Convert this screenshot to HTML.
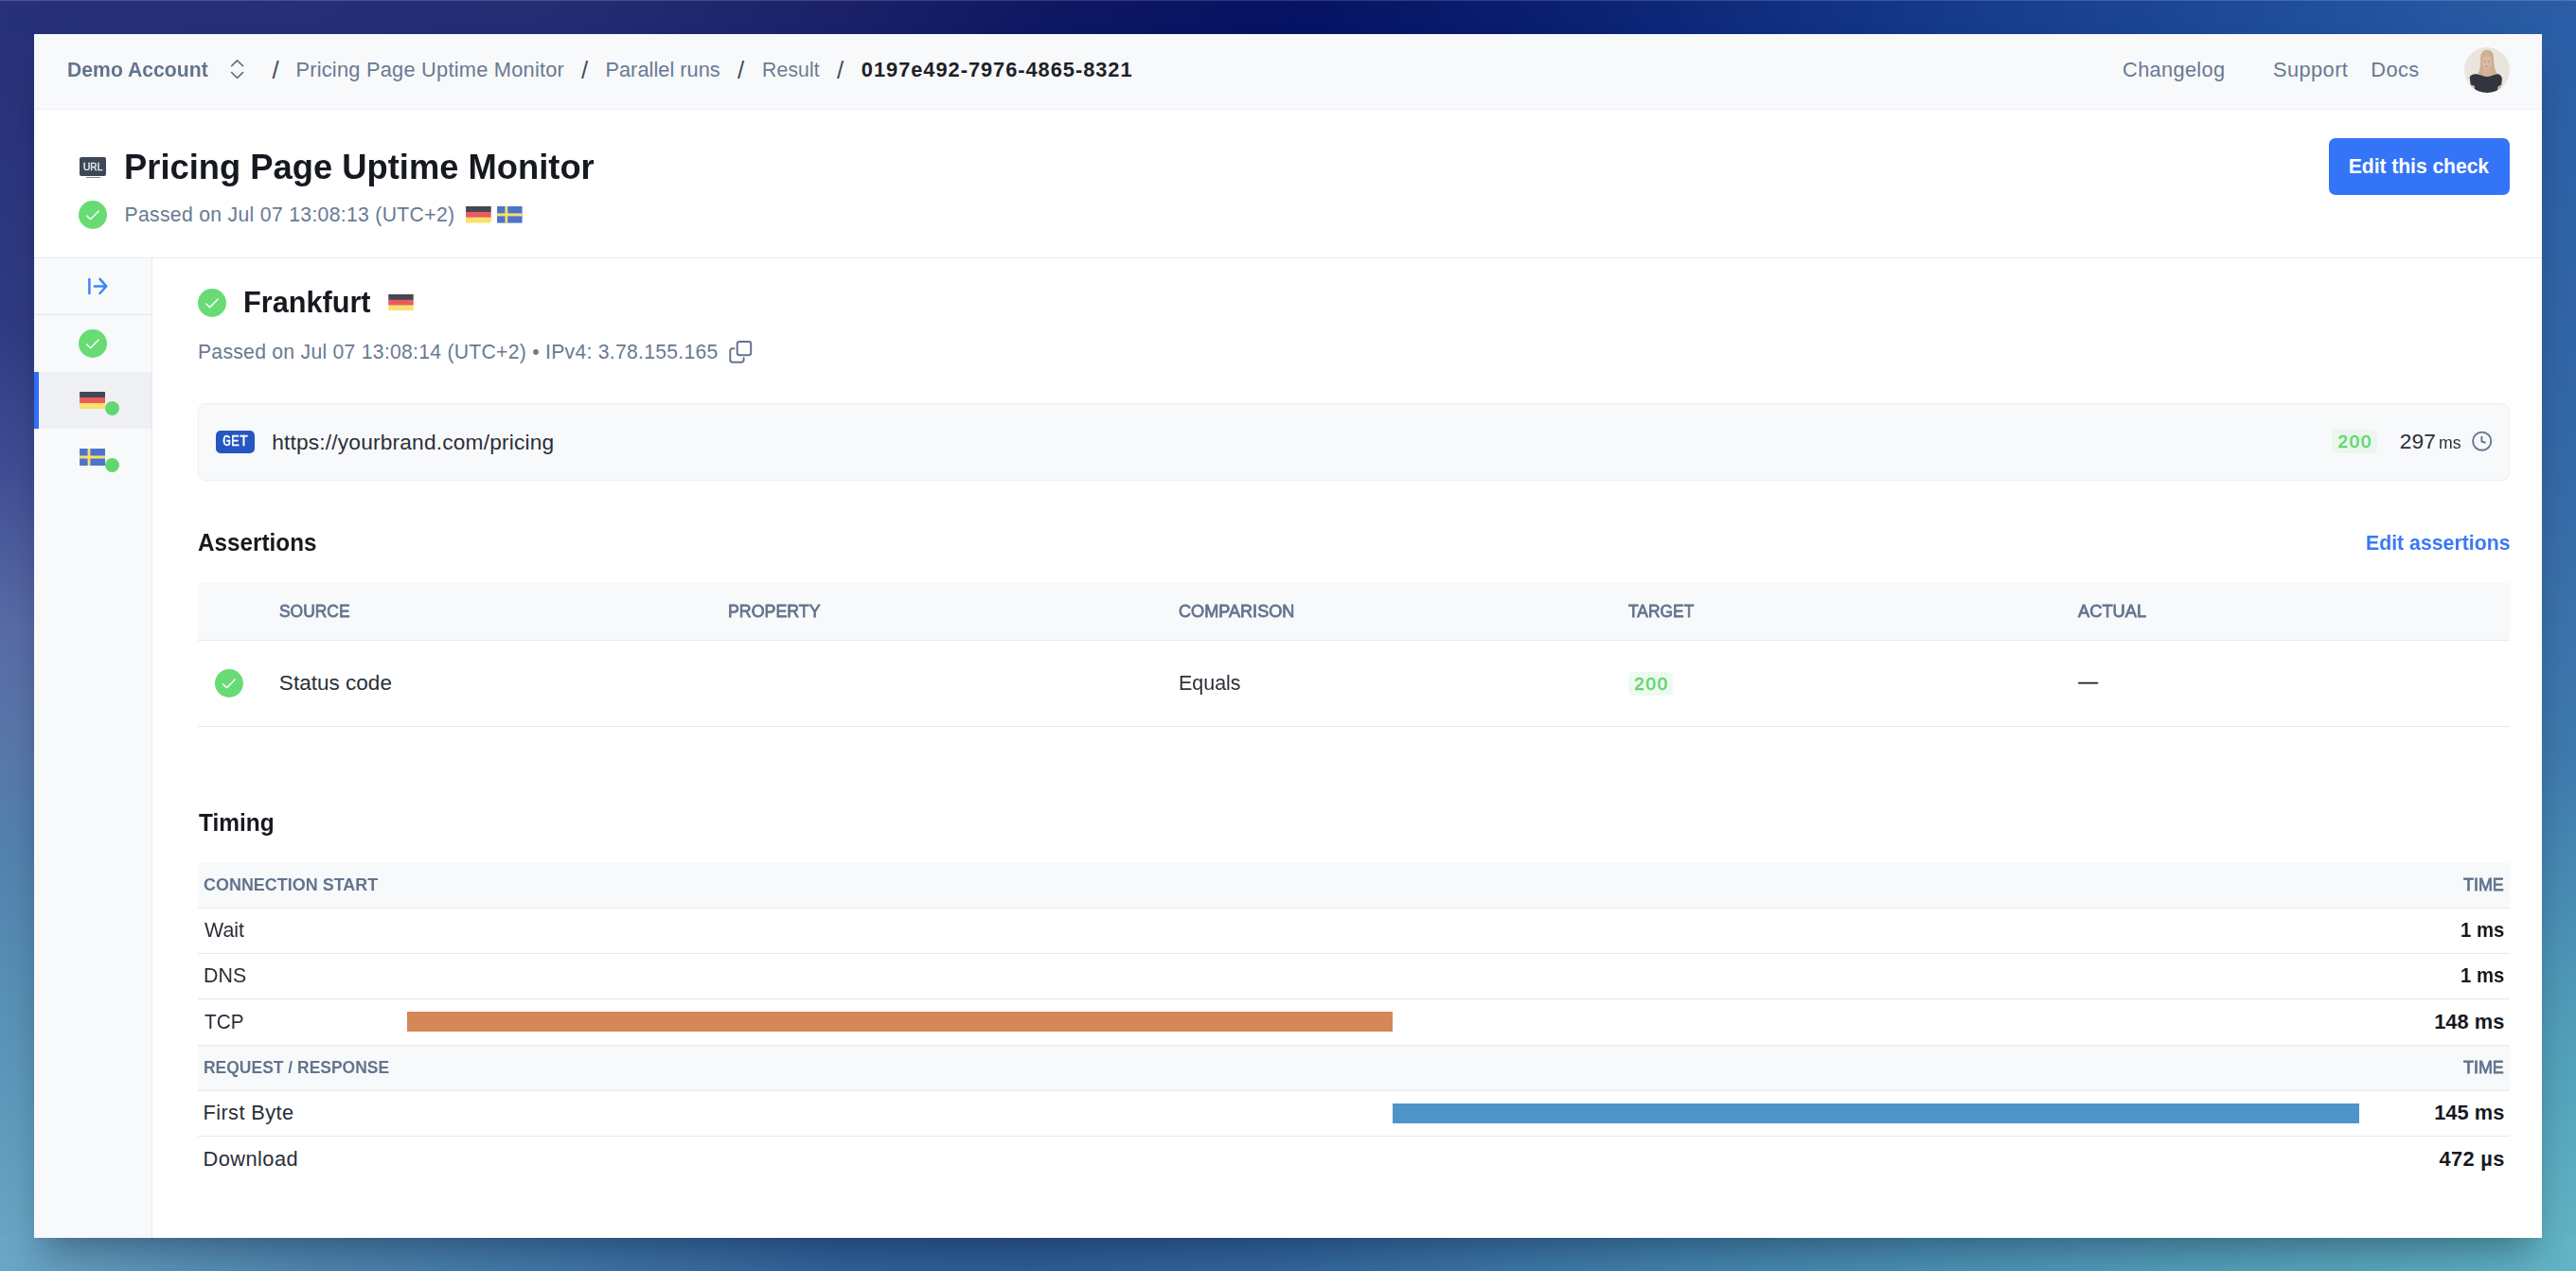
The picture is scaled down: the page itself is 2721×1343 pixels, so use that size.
<!DOCTYPE html>
<html lang="en">
<head>
<meta charset="utf-8">
<title>Pricing Page Uptime Monitor</title>
<style>
html,body{margin:0;padding:0;}
body{width:2721px;height:1343px;overflow:hidden;position:relative;font-family:"Liberation Sans",sans-serif;
background:#2c4f8c;
}
.st{position:absolute;}
.st-t{left:0;top:0;width:2721px;height:37px;background:linear-gradient(to right,#27317a 0%,#242c74 22%,#1a2169 33%,#0e1762 41%,#061263 50%,#0a1f70 60%,#15398a 75%,#204f9b 90%,#2b5ea7 100%);}
.st-b{left:0;top:1307px;width:2721px;height:37px;background:linear-gradient(to right,#6aa6c6 0%,#5a94b8 6%,#4f86b0 12%,#3f76a8 22%,#30609a 33%,#2e5d98 40%,#32669e 50%,#4282ad 65%,#4f98b8 80%,#5aaabe 95%,#62b5c5 100%);}
.st-l{left:0;top:36px;width:37px;height:1272px;background:linear-gradient(to bottom,#28317a 0%,#2c3780 14%,#303b84 24%,#414e95 36.5%,#586ba6 49%,#5878ab 60%,#5282af 68%,#5a95b8 84%,#68a5c4 100%);}
.st-r{left:2684px;top:36px;width:37px;height:1271px;background:linear-gradient(to bottom,#2b5ea7 0%,#3468a8 33%,#3f7aae 60%,#52a0ba 84%,#60b3c4 100%);}
.abs,.t{position:absolute;}
.t{white-space:nowrap;}
.win{position:absolute;left:36px;top:36px;width:2649px;height:1272px;background:#fff;box-shadow:0 22px 36px -10px rgba(0,0,20,0.34);}
.nav{position:absolute;left:36px;top:36px;width:2649px;height:79px;background:#f8f9fb;border-bottom:1px solid #ebeef2;}
.hline{position:absolute;height:1px;background:#e4e8ee;}
.side{position:absolute;left:36px;top:273px;width:124px;height:1035px;background:#f8f9fb;border-right:1px solid #e6e9ee;}
.sel{position:absolute;left:36px;top:393px;width:124px;height:60px;background:#eef0f4;}
.selbar{position:absolute;left:36px;top:393px;width:5px;height:60px;background:#2f6ef6;}
.ok{position:absolute;width:30px;height:30px;}
.dot{position:absolute;width:15px;height:15px;border-radius:50%;background:#62d670;}
.btn{position:absolute;left:2460px;top:146px;width:191px;height:60px;border-radius:7px;background:#3474f6;}
.urlbox{position:absolute;left:209px;top:426px;width:2440px;height:80px;border:1px solid #eceff3;border-radius:8px;background:#f8f9fb;}
.get{position:absolute;left:228px;top:455px;width:41px;height:24px;border-radius:5px;background:#2557c1;}
.badge{position:absolute;border-radius:5px;background:#ebf7ed;}
.thead{position:absolute;background:#f8f9fb;}
.bar{position:absolute;height:21px;}
</style>
</head>
<body>
<div class="st st-t"></div><div class="st st-b"></div><div class="st st-l"></div><div class="st st-r"></div>
<div class="st" style="left:0;top:0;width:2721px;height:1px;background:rgba(255,255,255,0.16)"></div>
<div class="win"></div>
<div class="nav"></div>
<!-- header bottom border -->
<div class="hline" style="left:36px;top:272px;width:2649px;"></div>
<div class="side"></div>
<div class="hline" style="left:36px;top:332px;width:124px;"></div>
<div class="sel"></div><div class="selbar"></div>

<!-- chevrons -->
<svg class="abs" style="left:240px;top:60px" width="22" height="28" viewBox="0 0 22 28"><path d="M4.7 9.6 L10.6 3.9 L16.5 9.6 M4.7 16.7 L10.6 22.3 L16.5 16.7" fill="none" stroke="#64748b" stroke-width="1.7" stroke-linecap="round" stroke-linejoin="round"/></svg>

<!-- avatar -->
<svg class="abs" style="left:2603px;top:50px" width="48" height="48" viewBox="0 0 48 48">
<defs><clipPath id="av"><circle cx="24" cy="24" r="24"/></clipPath><filter id="avb" x="-10%" y="-10%" width="120%" height="120%"><feGaussianBlur stdDeviation="0.55"/></filter></defs>
<g clip-path="url(#av)"><g filter="url(#avb)">
<rect x="-2" y="-2" width="52" height="52" fill="#e9e4de"/>
<path d="M17.2 11.5 C17 5.5 20.5 2.8 24.2 2.8 C28.2 2.8 31 5.6 31 11.5 C31.2 16 31.6 20 32.6 23.5 C33.6 27 35.4 29.6 36.6 31.5 L12.4 32 C14.4 28.6 16 25 16.6 21 C17 17.6 17.2 14.6 17.2 11.5 Z" fill="#c9b28c"/>
<ellipse cx="23.6" cy="15.4" rx="5.1" ry="7.6" fill="#dcbba6"/>
<path d="M19.6 11 C20.6 7.6 26.8 7.4 27.8 11 C26.4 9.4 21 9.4 19.6 11 Z" fill="#cdb48e"/>
<path d="M20 23 L27.4 23 L28.6 31 L18.6 31 Z" fill="#d4b19b"/>
<ellipse cx="21.4" cy="14.9" rx="0.9" ry="0.5" fill="#7a6a66"/><ellipse cx="25.9" cy="14.9" rx="0.9" ry="0.5" fill="#7a6a66"/>
<ellipse cx="23.6" cy="20.2" rx="1.6" ry="0.6" fill="#c08a86"/>
<path d="M5.6 31.4 C7.5 28.2 11.6 27.6 14 28.6 L19.4 30 C22.4 31.4 26 31.4 28.8 30 L33.6 28.4 C36.8 27.6 39.2 29.8 39.9 33 L39.2 39.6 L35.6 41.8 L35.2 49 L11 49 L10.6 41 L6.8 39.8 Z" fill="#30343c"/>
<path d="M6.4 39.2 L10.5 40.8 L10.9 46.4 L7.4 44 Z" fill="#d9b49c"/>
<path d="M39.4 39.4 L35.7 41.7 L35.5 46.8 L38.8 44.2 Z" fill="#d9b49c"/>
</g></g></svg>

<!-- URL monitor icon -->
<div class="abs" style="left:84px;top:165.5px;width:28px;height:20.5px;border-radius:2px;background:#3d4755;"></div>
<div class="abs" style="left:91px;top:187px;width:14.5px;height:1.2px;background:#7c8796;"></div>

<!-- check icons -->
<svg width="0" height="0" style="position:absolute"><defs>
<symbol id="ok" viewBox="0 0 30 30"><circle cx="15" cy="15" r="15" fill="#68db75"/><path d="M8.7 15.9 L12.6 19.8 L21.2 11.1" fill="none" stroke="#fff" stroke-width="1.45" stroke-linecap="round" stroke-linejoin="round"/></symbol>
<symbol id="de" viewBox="0 0 27 18"><rect width="27" height="6.1" fill="#464655"/><rect y="6" width="27" height="6" fill="#ec5a5c"/><rect y="11.9" width="27" height="6.1" fill="#f8e26e"/></symbol>
<symbol id="se" viewBox="0 0 27 18"><rect width="27" height="18" fill="#4c74cd"/><rect x="8.5" width="2.8" height="18" fill="#fbe065"/><rect y="7.5" width="27" height="3" fill="#fbe065"/></symbol>
</defs></svg>
<svg class="ok" style="left:83.2px;top:212px"><use href="#ok"/></svg>
<svg class="ok" style="left:83px;top:348px"><use href="#ok"/></svg>
<svg class="ok" style="left:209.2px;top:304.6px"><use href="#ok"/></svg>
<svg class="ok" style="left:227px;top:707px"><use href="#ok"/></svg>

<!-- flags -->
<svg class="abs" style="left:492.2px;top:218px" width="26.9" height="17.8"><use href="#de"/></svg>
<svg class="abs" style="left:525.2px;top:218px" width="26.8" height="17.8"><use href="#se"/></svg>
<svg class="abs" style="left:410px;top:310.6px" width="27" height="17.6"><use href="#de"/></svg>
<svg class="abs" style="left:84px;top:413.8px" width="27.2" height="18"><use href="#de"/></svg>
<svg class="abs" style="left:84px;top:473.8px" width="27.2" height="18"><use href="#se"/></svg>
<div class="dot" style="left:111.2px;top:423.8px"></div>
<div class="dot" style="left:111.2px;top:483.8px"></div>

<!-- sidebar arrow -->
<svg class="abs" style="left:88px;top:290px" width="30" height="26" viewBox="0 0 30 26"><path d="M6.4 4.9 V20 M11.9 12.45 H24.1 M17.5 4.9 L24.3 12.45 L17.5 20" fill="none" stroke="#4285f4" stroke-width="2.5" stroke-linecap="round" stroke-linejoin="round"/></svg>

<!-- button -->
<div class="btn"></div>

<!-- copy icon -->
<svg class="abs" style="left:766px;top:356px" width="32" height="32" viewBox="0 0 32 32"><rect x="12.7" y="4.9" width="14.5" height="14.3" rx="2.4" fill="none" stroke="#64748b" stroke-width="2"/><path d="M9.4 12.25 H7.7 a2.4 2.4 0 0 0 -2.4 2.4 V24.3 a2.4 2.4 0 0 0 2.4 2.4 H17.2 a2.4 2.4 0 0 0 2.4 -2.4 V22.3" fill="none" stroke="#64748b" stroke-width="2" stroke-linecap="round"/></svg>

<!-- url box -->
<div class="urlbox"></div>
<div class="get"></div>
<div class="badge" style="left:2463.3px;top:454px;width:47.6px;height:24.5px;"></div>
<svg class="abs" style="left:2609px;top:453px" width="26" height="26" viewBox="0 0 26 26"><circle cx="12.7" cy="13.2" r="9.6" fill="none" stroke="#64768f" stroke-width="1.9"/><path d="M12.4 8.6 V13.5 L15.9 14.7" fill="none" stroke="#64768f" stroke-width="1.9" stroke-linecap="round" stroke-linejoin="round"/></svg>

<!-- assertions table -->
<div class="thead" style="left:209px;top:616px;width:2442px;height:60px;"></div>
<div class="hline" style="left:209px;top:676px;width:2442px;"></div>
<div class="hline" style="left:209px;top:767px;width:2442px;"></div>
<div class="badge" style="left:1719.5px;top:710px;width:47.3px;height:24.5px;background:#eefaf0;"></div>

<!-- timing table -->
<div class="thead" style="left:209px;top:912px;width:2442px;height:47.5px;"></div>
<div class="hline" style="left:209px;top:959.3px;width:2442px;"></div>
<div class="hline" style="left:209px;top:1007px;width:2442px;"></div>
<div class="hline" style="left:209px;top:1055.2px;width:2442px;"></div>
<div class="hline" style="left:209px;top:1104px;width:2442px;"></div>
<div class="thead" style="left:209px;top:1105px;width:2442px;height:47.5px;"></div>
<div class="hline" style="left:209px;top:1152.4px;width:2442px;"></div>
<div class="hline" style="left:209px;top:1200px;width:2442px;"></div>
<div class="bar" style="left:430px;top:1069px;width:1041px;background:#d58757;"></div>
<div class="bar" style="left:1471px;top:1166px;width:1021px;background:#4d94c8;"></div>

<span class="t" id="n1" style="left:71.06px;top:62.54px;font-size:21.8px;line-height:21.8px;color:#62748d;font-weight:700;transform:scaleX(0.9721);transform-origin:0 0;">Demo Account</span>
<span class="t" id="s1" style="left:287.50px;top:62.34px;font-size:25.7px;line-height:25.7px;color:#484d57;">/</span>
<span class="t" id="n2" style="left:312.41px;top:62.54px;font-size:21.8px;line-height:21.8px;color:#697a92;letter-spacing:0.232px;">Pricing Page Uptime Monitor</span>
<span class="t" id="s2" style="left:614.00px;top:62.34px;font-size:25.7px;line-height:25.7px;color:#484d57;">/</span>
<span class="t" id="n3" style="left:639.41px;top:62.54px;font-size:21.8px;line-height:21.8px;color:#697a92;letter-spacing:0.018px;">Parallel runs</span>
<span class="t" id="s3" style="left:779.00px;top:62.34px;font-size:25.7px;line-height:25.7px;color:#484d57;">/</span>
<span class="t" id="n4" style="left:804.90px;top:62.54px;font-size:21.8px;line-height:21.8px;color:#697a92;transform:scaleX(0.9825);transform-origin:0 0;">Result</span>
<span class="t" id="s4" style="left:884.00px;top:62.34px;font-size:25.7px;line-height:25.7px;color:#484d57;">/</span>
<span class="t" id="n5" style="left:909.84px;top:62.54px;font-size:21.8px;line-height:21.8px;color:#1d2127;font-weight:700;letter-spacing:0.979px;">0197e492-7976-4865-8321</span>
<span class="t" id="n6" style="left:2242.09px;top:62.54px;font-size:21.8px;line-height:21.8px;color:#697a92;letter-spacing:0.320px;">Changelog</span>
<span class="t" id="n7" style="left:2401.10px;top:62.54px;font-size:21.8px;line-height:21.8px;color:#697a92;letter-spacing:0.401px;">Support</span>
<span class="t" id="n8" style="left:2504.31px;top:62.54px;font-size:21.8px;line-height:21.8px;color:#697a92;letter-spacing:0.401px;">Docs</span>
<span class="t" id="h1" style="left:130.77px;top:157.92px;font-size:37px;line-height:37px;color:#16191f;font-weight:700;transform:scaleX(0.9823);transform-origin:0 0;">Pricing Page Uptime Monitor</span>
<span class="t" id="h2" style="left:131.46px;top:215.80px;font-size:21.2px;line-height:21.2px;color:#697a92;letter-spacing:0.312px;">Passed on Jul 07 13:08:13 (UTC+2)</span>
<span class="t" id="b1" style="left:2480.78px;top:165.05px;font-size:21.2px;line-height:21.2px;color:#ffffff;font-weight:700;letter-spacing:-0.082px;">Edit this check</span>
<span class="t" id="f1" style="left:257.05px;top:302.80px;font-size:32px;line-height:32px;color:#16191f;font-weight:700;transform:scaleX(0.9582);transform-origin:0 0;">Frankfurt</span>
<span class="t" id="f2" style="left:208.96px;top:360.85px;font-size:21.2px;line-height:21.2px;color:#697a92;letter-spacing:0.259px;">Passed on Jul 07 13:08:14 (UTC+2) • IPv4: 3.78.155.165</span>
<span class="t" id="g1" style="left:234.93px;top:459.82px;font-size:15.9px;line-height:15.9px;color:#ffffff;font-family:'Liberation Mono',monospace;transform:scaleX(0.9398);transform-origin:0 0;-webkit-text-stroke:0.3px #fff;">GET</span>
<span class="t" id="ic" style="left:87.73px;top:171.42px;font-size:11.2px;line-height:11.2px;color:#e4e7ea;-webkit-text-stroke:0.47px #e4e7ea;transform:scaleX(0.9064);transform-origin:0 0;">URL</span>
<span class="t" id="u1" style="left:287.13px;top:455.53px;font-size:22.7px;line-height:22.7px;color:#2a2f38;letter-spacing:0.197px;">https://yourbrand.com/pricing</span>
<span class="t" id="c1" style="left:2469.46px;top:457.95px;font-size:18.6px;line-height:18.6px;color:#5cd66b;letter-spacing:1.965px;-webkit-text-stroke:0.6px #5cd66b;">200</span>
<span class="t" id="c2" style="left:2534.86px;top:454.78px;font-size:22.7px;line-height:22.7px;color:#2a2f38;letter-spacing:0.062px;">297</span>
<span class="t" id="c3" style="left:2575.53px;top:459.00px;font-size:18.9px;line-height:18.9px;color:#2a2f38;transform:scaleX(0.9334);transform-origin:0 0;">ms</span>
<span class="t" id="a1" style="left:209.23px;top:561.44px;font-size:25.7px;line-height:25.7px;color:#16191f;font-weight:700;transform:scaleX(0.9457);transform-origin:0 0;">Assertions</span>
<span class="t" id="a2" style="left:2498.78px;top:562.54px;font-size:21.8px;line-height:21.8px;color:#3b78f5;font-weight:700;transform:scaleX(0.9759);transform-origin:0 0;">Edit assertions</span>
<span class="t" id="th1" style="left:295.07px;top:636.75px;font-size:18.9px;line-height:18.9px;color:#62748d;-webkit-text-stroke:0.79px #62748d;transform:scaleX(0.9224);transform-origin:0 0;">SOURCE</span>
<span class="t" id="th2" style="left:768.91px;top:636.75px;font-size:18.9px;line-height:18.9px;color:#62748d;-webkit-text-stroke:0.79px #62748d;transform:scaleX(0.9423);transform-origin:0 0;">PROPERTY</span>
<span class="t" id="th3" style="left:1244.96px;top:636.75px;font-size:18.9px;line-height:18.9px;color:#62748d;-webkit-text-stroke:0.79px #62748d;transform:scaleX(0.9584);transform-origin:0 0;">COMPARISON</span>
<span class="t" id="th4" style="left:1720.41px;top:636.75px;font-size:18.9px;line-height:18.9px;color:#62748d;-webkit-text-stroke:0.79px #62748d;transform:scaleX(0.9214);transform-origin:0 0;">TARGET</span>
<span class="t" id="th5" style="left:2194.97px;top:636.75px;font-size:18.9px;line-height:18.9px;color:#62748d;-webkit-text-stroke:0.79px #62748d;transform:scaleX(0.9684);transform-origin:0 0;">ACTUAL</span>
<span class="t" id="td1" style="left:294.85px;top:710.70px;font-size:22.5px;line-height:22.5px;color:#2a2f38;letter-spacing:0.024px;">Status code</span>
<span class="t" id="td2" style="left:1244.89px;top:710.70px;font-size:22.5px;line-height:22.5px;color:#2a2f38;transform:scaleX(0.9533);transform-origin:0 0;">Equals</span>
<span class="t" id="td3" style="left:1726.36px;top:714.00px;font-size:18.6px;line-height:18.6px;color:#5cd66b;letter-spacing:1.840px;-webkit-text-stroke:0.6px #5cd66b;">200</span>
<span class="t" id="td4" style="left:2195.20px;top:710.37px;font-size:20.7px;line-height:20.7px;color:#2a2f38;-webkit-text-stroke:0.35px #2a2f38;">—</span>
<span class="t" id="m1" style="left:209.93px;top:857.04px;font-size:25.7px;line-height:25.7px;color:#16191f;font-weight:700;transform:scaleX(0.9520);transform-origin:0 0;">Timing</span>
<span class="t" id="r0" style="left:214.99px;top:925.75px;font-size:18.9px;line-height:18.9px;color:#62748d;font-weight:700;transform:scaleX(0.9504);transform-origin:0 0;">CONNECTION START</span>
<span class="t" id="r0t" style="left:2601.97px;top:925.75px;font-size:18.9px;line-height:18.9px;color:#62748d;-webkit-text-stroke:0.79px #62748d;transform:scaleX(0.9489);transform-origin:0 0;">TIME</span>
<span class="t" id="r1" style="left:216.16px;top:971.54px;font-size:21.8px;line-height:21.8px;color:#2a2f38;transform:scaleX(0.9814);transform-origin:0 0;">Wait</span>
<span class="t" id="r1t" style="left:2598.92px;top:971.54px;font-size:21.8px;line-height:21.8px;color:#16191f;font-weight:700;transform:scaleX(0.9321);transform-origin:0 0;">1 ms</span>
<span class="t" id="r2" style="left:215.00px;top:1019.84px;font-size:21.8px;line-height:21.8px;color:#2a2f38;transform:scaleX(0.9828);transform-origin:0 0;">DNS</span>
<span class="t" id="r2t" style="left:2598.92px;top:1019.84px;font-size:21.8px;line-height:21.8px;color:#16191f;font-weight:700;transform:scaleX(0.9321);transform-origin:0 0;">1 ms</span>
<span class="t" id="r3" style="left:215.78px;top:1068.84px;font-size:21.8px;line-height:21.8px;color:#2a2f38;transform:scaleX(0.9531);transform-origin:0 0;">TCP</span>
<span class="t" id="r3t" style="left:2571.13px;top:1068.84px;font-size:21.8px;line-height:21.8px;color:#16191f;font-weight:700;letter-spacing:0.046px;">148 ms</span>
<span class="t" id="r4" style="left:215.08px;top:1119.00px;font-size:18.9px;line-height:18.9px;color:#62748d;font-weight:700;transform:scaleX(0.9248);transform-origin:0 0;">REQUEST / RESPONSE</span>
<span class="t" id="r4t" style="left:2601.97px;top:1119.00px;font-size:18.9px;line-height:18.9px;color:#62748d;-webkit-text-stroke:0.79px #62748d;transform:scaleX(0.9489);transform-origin:0 0;">TIME</span>
<span class="t" id="r5" style="left:214.46px;top:1164.54px;font-size:21.8px;line-height:21.8px;color:#2a2f38;letter-spacing:0.412px;">First Byte</span>
<span class="t" id="r5t" style="left:2571.13px;top:1164.54px;font-size:21.8px;line-height:21.8px;color:#16191f;font-weight:700;letter-spacing:0.046px;">145 ms</span>
<span class="t" id="r6" style="left:214.46px;top:1214.24px;font-size:21.8px;line-height:21.8px;color:#2a2f38;letter-spacing:0.465px;">Download</span>
<span class="t" id="r6t" style="left:2576.47px;top:1214.24px;font-size:21.8px;line-height:21.8px;color:#16191f;font-weight:700;letter-spacing:0.343px;">472 µs</span>
</body>
</html>
